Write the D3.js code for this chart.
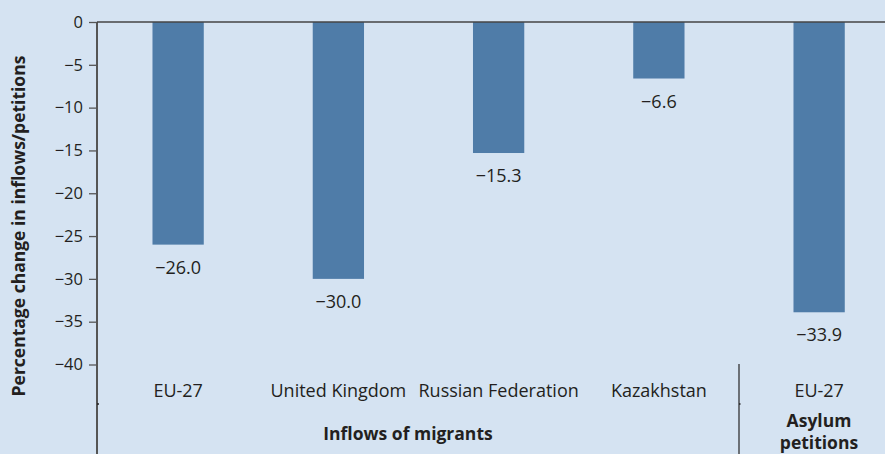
<!DOCTYPE html>
<html><head><meta charset="utf-8">
<script src="https://cdn.jsdelivr.net/npm/d3@7"></script>
<style>body{margin:0;background:#d5e3f2;}svg{display:block;}</style>
</head><body>
<script>
const categories = ["EU-27", "United Kingdom", "Russian Federation", "Kazakhstan", "EU-27 "];
const values = [-26.0, -30.0, -15.3, -6.6, -33.9];
const yTicks = [0, -5, -10, -15, -20, -25, -30, -35, -40];
const groups = [{name: ["Inflows of migrants"], from: 0, to: 3}, {name: ["Asylum", "petitions"], from: 4, to: 4}];

const W = 885, H = 454;
const font = "'Open Sans', sans-serif";
const svg = d3.select("body").append("svg").attr("width", W).attr("height", H)
  .style("background", "#d5e3f2");

const x0 = 97;
const y = d3.scaleLinear().domain([0, -40]).range([22, 364.5]);
const x = d3.scaleBand().domain(categories).range([98, 899.25]).paddingInner(0.68).paddingOuter(0.34);

// bars
svg.selectAll("rect.bar").data(values).join("rect")
  .attr("x", (d, i) => x(categories[i]))
  .attr("width", x.bandwidth())
  .attr("y", y(0))
  .attr("height", d => y(d) - y(0))
  .attr("fill", "#4f7ca8");

// value labels
svg.selectAll("text.val").data(values).join("text")
  .attr("x", (d, i) => x(categories[i]) + x.bandwidth() / 2)
  .attr("y", d => y(d) + 29)
  .attr("text-anchor", "middle")
  .style("font-family", font).style("font-size", "18px").attr("fill", "#231f20")
  .text(d => "\u2212" + Math.abs(d).toFixed(1));

// y axis
const yAxis = d3.axisLeft(y).tickValues(yTicks).tickSize(8).tickPadding(6)
  .tickFormat(d => d === 0 ? "0" : "\u2212" + Math.abs(d));
const ga = svg.append("g").attr("transform", `translate(${x0},0)`).call(yAxis);
ga.select(".domain").remove();
ga.selectAll(".tick line").attr("stroke", "#555").attr("stroke-width", 1.3);
ga.selectAll(".tick text").style("font-family", font).style("font-size", "16.5px").attr("fill", "#231f20");

// axis vertical line down to bottom
svg.append("line").attr("x1", x0).attr("x2", x0).attr("y1", y(0)).attr("y2", H)
  .attr("stroke", "#555").attr("stroke-width", 2);
// zero line
svg.append("line").attr("x1", x0).attr("x2", W).attr("y1", y(0)).attr("y2", y(0))
  .attr("stroke", "#444").attr("stroke-width", 1.5);

// category labels
svg.selectAll("text.cat").data(categories).join("text")
  .attr("x", d => x(d) + x.bandwidth() / 2)
  .attr("y", 397)
  .attr("text-anchor", "middle")
  .style("font-family", font).style("font-size", "18px").attr("fill", "#231f20")
  .text(d => d.trim());

// group separator
const sepX = 739;
svg.append("line").attr("x1", sepX).attr("x2", sepX).attr("y1", 364).attr("y2", H)
  .attr("stroke", "#333").attr("stroke-width", 1.3);
svg.append("line").attr("x1", x0).attr("x2", x0 + 2).attr("y1", 404).attr("y2", 404).attr("stroke", "#222").attr("stroke-width", 1.5);
svg.append("line").attr("x1", sepX).attr("x2", sepX + 1.5).attr("y1", 404).attr("y2", 404).attr("stroke", "#222").attr("stroke-width", 1.5);

// group labels
svg.append("text").attr("x", 408).attr("y", 440).attr("text-anchor", "middle")
  .style("font-family", font).style("font-size", "17.5px").style("font-weight", "bold").attr("fill", "#231f20")
  .text(groups[0].name[0]);
const g2 = svg.append("text").attr("x", 819).attr("text-anchor", "middle")
  .style("font-family", font).style("font-size", "17.5px").style("font-weight", "bold").attr("fill", "#231f20");
groups[1].name.forEach((t, i) => g2.append("tspan").attr("x", 819).attr("y", 427 + i * 22).text(t));

// y title
svg.append("text").attr("transform", `translate(25,226) rotate(-90)`)
  .attr("text-anchor", "middle")
  .style("font-family", font).style("font-size", "17.5px").style("font-weight", "bold").attr("fill", "#231f20")
  .text("Percentage change in inflows/petitions");
</script>
</body></html>
